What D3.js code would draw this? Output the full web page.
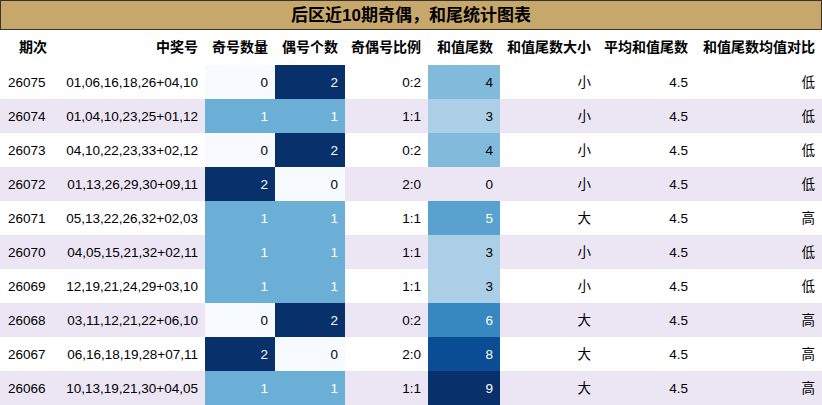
<!DOCTYPE html><html><head><meta charset="utf-8">
<script src="https://cdn.jsdelivr.net/npm/d3@7"></script>
<style>body{margin:0;background:#fff}</style></head><body><svg id="c" width="822" height="405"></svg>
<script>
const title="后区近10期奇偶，和尾统计图表";
const headers=["期次","中奖号","奇号数量","偶号个数","奇偶号比例","和值尾数","和值尾数大小","平均和值尾数","和值尾数均值对比"];
const periods=["26075","26074","26073","26072","26071","26070","26069","26068","26067","26066"];
const numbers=["01,06,16,18,26+04,10","01,04,10,23,25+01,12","04,10,22,23,33+02,12","01,13,26,29,30+09,11","05,13,22,26,32+02,03","04,05,15,21,32+02,11","12,19,21,24,29+03,10","03,11,12,21,22+06,10","06,16,18,19,28+07,11","10,13,19,21,30+04,05"];
const oddCount=[0,1,0,2,1,1,1,0,2,1];
const evenCount=[2,1,2,0,1,1,1,2,0,1];
const ratio=["0:2","1:1","0:2","2:0","1:1","1:1","1:1","0:2","2:0","1:1"];
const tail=[4,3,4,0,5,3,3,6,8,9];
const size=["小","小","小","小","大","小","小","大","大","大"];
const avg=[4.5,4.5,4.5,4.5,4.5,4.5,4.5,4.5,4.5,4.5];
const cmp=["低","低","低","低","高","低","低","高","高","高"];

const svg=d3.select("#c");
const colEdges=[0,55,205,275,345,428,500,598,695,822];
const x=i=>colEdges[i];
const y=d3.scaleBand().domain(d3.range(10)).range([65,405]);
const font="'Liberation Sans',Arial,'Noto Sans CJK SC',sans-serif";
svg.append("rect").attr("x",0.5).attr("y",0.5).attr("width",821).attr("height",29).attr("fill","#c8a86a").attr("stroke","#333");
svg.append("text").attr("x",411).attr("y",21).attr("text-anchor","middle").attr("font-family",font).attr("font-weight","bold").attr("font-size",17).text(title);
headers.forEach((h,i)=>svg.append("text").attr("x",i==0?19:x(i+1)-7).attr("y",52).attr("text-anchor",i==0?"start":"end").attr("font-family",font).attr("font-weight","bold").attr("font-size",14).text(h));
const cnt=d3.scaleOrdinal().domain([0,1,2]).range(["#f7fbff","#6baed6","#08306b"]);
const tc=d3.scaleSequential(d3.interpolateBlues).domain([0,9]);
periods.forEach((p,r)=>{
  const bg=r%2?"#ece6f4":"#ffffff";
  const cells=[[p,bg,"#000","start"],[numbers[r],bg,"#000"],[oddCount[r],cnt(oddCount[r]),oddCount[r]?"#fff":"#000"],[evenCount[r],cnt(evenCount[r]),evenCount[r]?"#fff":"#000"],[ratio[r],bg,"#000"],[tail[r],tail[r]?tc(tail[r]):bg,tail[r]>=5?"#fff":"#000"],[size[r],bg,"#000"],[avg[r].toFixed(1),bg,"#000"],[cmp[r],bg,"#000"]];
  cells.forEach((c,i)=>{
    svg.append("rect").attr("x",x(i)).attr("y",y(r)).attr("width",x(i+1)-x(i)).attr("height",y.bandwidth()).attr("fill",c[1]);
    svg.append("text").attr("x",c[3]?x(i)+8:x(i+1)-7).attr("y",y(r)+y.bandwidth()/2+5).attr("text-anchor",c[3]?"start":"end").attr("font-family",font).attr("font-size",13.5).attr("fill",c[2]).text(c[0]);
  });
});
</script></body></html>
